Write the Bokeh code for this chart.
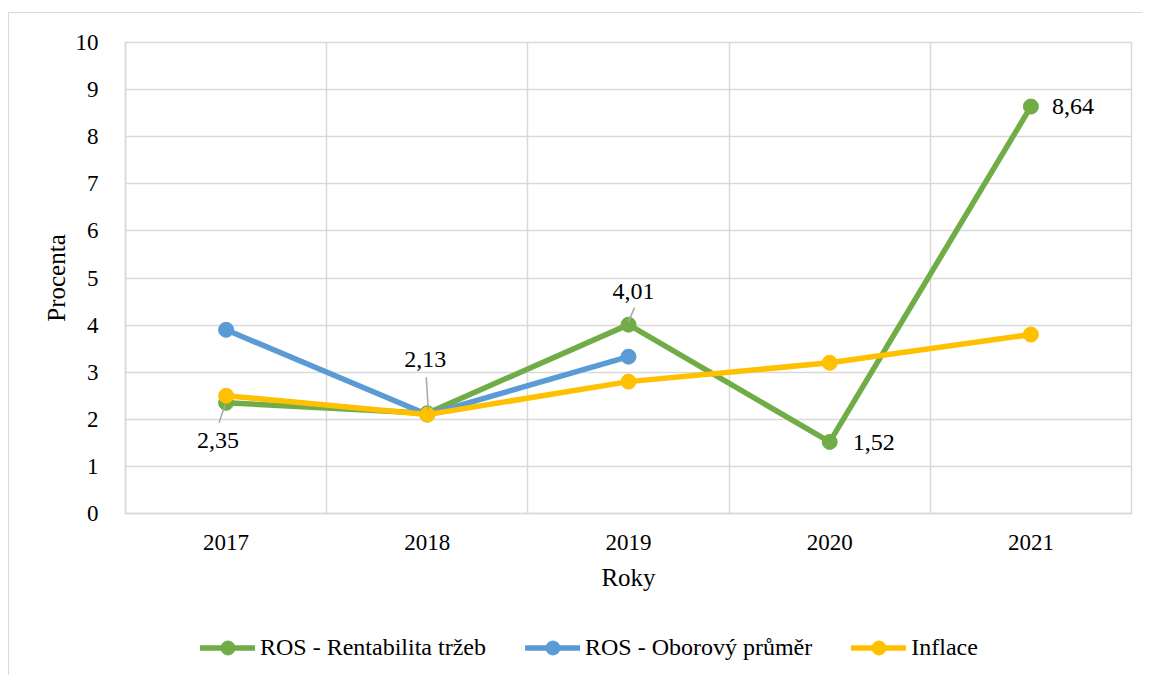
from bokeh.plotting import figure
from bokeh.layouts import column
from bokeh.models import FixedTicker, Legend, LegendItem, Range1d
from bokeh.core.properties import value
from bokeh.embed import file_html
from bokeh.resources import INLINE

years = ["2017", "2018", "2019", "2020", "2021"]
ros = [2.35, 2.13, 4.01, 1.52, 8.64]
ros_obor = [3.9, 2.1, 3.33]
inflace = [2.5, 2.1, 2.8, 3.2, 3.8]
ros_labels = ["2,35", "2,13", "4,01", "1,52", "8,64"]
series_names = ["ROS - Rentabilita tržeb", "ROS - Oborový průměr", "Inflace"]

GREEN = "#70AD47"
BLUE = "#5B9BD5"
YELLOW = "#FFC000"
GRID = "#d9d9d9"
FONT = "Liberation Serif"
LW = 5.5
MS = 15

xs = [i + 0.5 for i in range(len(years))]
x2 = xs[:len(ros_obor)]
series = [(xs, ros, GREEN), (x2, ros_obor, BLUE), (xs, inflace, YELLOW)]

p = figure(width=1133, height=600, output_backend="svg", toolbar_location=None,
           x_range=Range1d(0, len(years)), y_range=Range1d(0, 10),
           min_border_left=116, min_border_top=29, min_border_right=11, min_border_bottom=100)
p.outline_line_color = GRID
p.outline_line_width = 1.5

# axes
p.xaxis.ticker = FixedTicker(ticks=xs)
p.xaxis.major_label_overrides = {x: y for x, y in zip(xs, years)}
p.xgrid.ticker = FixedTicker(ticks=list(range(len(years) + 1)))
p.yaxis.ticker = FixedTicker(ticks=list(range(0, 11)))
for g in (p.xgrid, p.ygrid):
    g.grid_line_color = GRID
    g.grid_line_width = 1.5
for ax in (p.xaxis, p.yaxis):
    ax.axis_line_color = GRID
    ax.axis_line_width = 1.5
    ax.major_tick_line_color = None
    ax.minor_tick_line_color = None
    ax.major_label_text_font = FONT
    ax.major_label_text_font_size = "23px"
    ax.major_label_text_color = "#000000"
    ax.axis_label_text_font = FONT
    ax.axis_label_text_font_size = "25px"
    ax.axis_label_text_font_style = "normal"
    ax.axis_label_text_color = "#000000"
p.xaxis.axis_label = "Roky"
p.yaxis.axis_label = "Procenta"
p.yaxis.major_label_standoff = 21
p.xaxis.major_label_standoff = 15
p.yaxis.axis_label_standoff = 3
p.xaxis.axis_label_standoff = 11

# series
for sx, sy, col in series:
    p.line(sx, sy, line_color=col, line_width=LW, line_join="round", line_cap="round")
    p.scatter(sx, sy, size=MS, fill_color=col, line_color=col)

# data labels: (dx px right, dy px up)
offs = [(-8, -38), (-2, 54), (5, 33), (44, -1), (42, 0)]
for x, v, lab, (dx, dy) in zip(xs, ros, ros_labels, offs):
    p.text(x=[x], y=[v], text=[lab], x_offset=dx, y_offset=-dy,
           text_font=value(FONT), text_font_size="24px", text_color="#000000",
           text_align="center", text_baseline="middle")
# leader lines (data units)
px_x = 1.0 / 201.0
px_y = 10.0 / 471.0
p.segment(x0=[xs[0] - 1 * px_x], y0=[ros[0] - 2 * px_y], x1=[xs[0] - 7 * px_x], y1=[ros[0] - 20 * px_y],
          line_color="#a6a6a6", line_width=1.5)
p.segment(x0=[xs[1] + 1 * px_x], y0=[ros[1] + 3 * px_y], x1=[xs[1] - 1 * px_x], y1=[ros[1] + 36 * px_y],
          line_color="#a6a6a6", line_width=1.5)
p.segment(x0=[xs[2]], y0=[ros[2] + 3 * px_y], x1=[xs[2] + 6 * px_x], y1=[ros[2] + 17 * px_y],
          line_color="#a6a6a6", line_width=1.5)

# legend strip (separate figure below the chart; its renderers are hidden)
lg = figure(width=1133, height=62, output_backend="svg", toolbar_location=None,
            x_range=Range1d(0, 1), y_range=Range1d(0, 1),
            min_border=0, x_axis_type=None, y_axis_type=None)
lg.outline_line_color = None
lg.xgrid.visible = False
lg.ygrid.visible = False
items = []
for name, (sx, sy, col) in zip(series_names, series):
    rl = lg.line(sx, sy, line_color=col, line_width=LW, line_cap="round", visible=False)
    rs = lg.scatter(sx, sy, size=MS, fill_color=col, line_color=col, visible=False)
    items.append(LegendItem(label=name, renderers=[rl, rs]))
legend = Legend(items=items, orientation="horizontal", location=(75, 10))
legend.label_text_font = FONT
legend.label_text_font_size = "24px"
legend.label_text_color = "#000000"
legend.glyph_width = 55
legend.glyph_height = 35
legend.label_standoff = 5
legend.spacing = 39
legend.padding = 0
legend.margin = 0
legend.border_line_color = None
legend.background_fill_alpha = 0
legend.inactive_fill_alpha = 0
lg.add_layout(legend, "center")

layout = column(p, lg, spacing=0,
                styles={"border-left": "1px solid #d9d9d9", "border-top": "1px solid #d9d9d9",
                        "margin-top": "12px", "margin-left": "8px"})

open("out.html", "w").write(file_html(layout, INLINE))
